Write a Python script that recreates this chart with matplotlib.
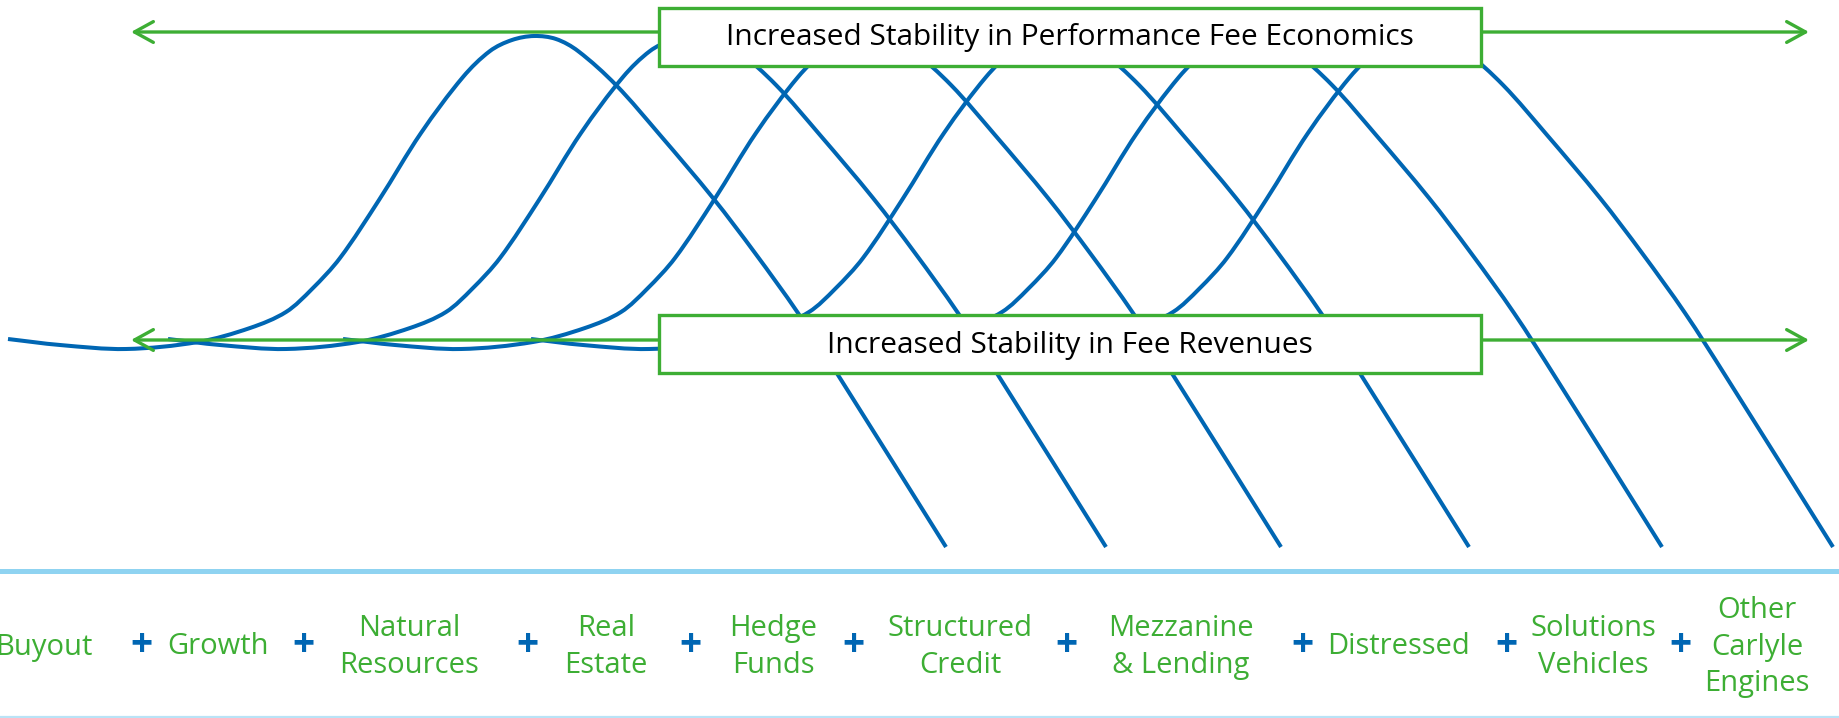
import matplotlib
matplotlib.use('Agg')
import matplotlib.pyplot as plt
from matplotlib.patches import Rectangle, PathPatch
from matplotlib.path import Path

# shape of one fund-life curve (pixel units, y down)
curve_x = [8, 60, 126, 198, 250, 286, 312, 340, 379, 421, 463, 490, 512,
           534, 556, 578, 616, 660, 713, 755, 798, 838, 946]
curve_y = [339, 345, 349, 342, 328, 312, 289, 258, 200, 133, 77, 51, 40,
           36, 39, 51, 85, 135, 198, 253, 313, 375, 547]
# horizontal shift of each of the six curves
curve_shift = [0, 160, 335, 523, 716, 887]

top_label = 'Increased Stability in Performance Fee Economics'
mid_label = 'Increased Stability in Fee Revenues'

engines = ['Buyout', 'Growth', 'Natural\nResources', 'Real\nEstate', 'Hedge\nFunds',
           'Structured\nCredit', 'Mezzanine\n& Lending', 'Distressed',
           'Solutions\nVehicles', 'Other\nCarlyle\nEngines']
engine_x = [44, 218, 409, 606, 773, 960, 1181, 1399, 1593, 1757]
plus_x = [141, 303, 527, 690, 853, 1066, 1302, 1506, 1680]

blue = '#0066B3'
green = '#3DAE34'
font = ['Open Sans', 'DejaVu Sans']


def smooth_path(xs, ys):
    # smooth bezier through the read points (chord-length scaled tangents)
    pts = list(zip(xs, ys))
    n = len(pts)
    d = [((pts[i + 1][0] - pts[i][0]) ** 2 + (pts[i + 1][1] - pts[i][1]) ** 2) ** 0.5
         for i in range(n - 1)]
    tan = []
    for i in range(n):
        a = pts[max(i - 1, 0)]
        b = pts[min(i + 1, n - 1)]
        span = (d[i - 1] if i > 0 else 0) + (d[i] if i < n - 1 else 0)
        tan.append(((b[0] - a[0]) / span, (b[1] - a[1]) / span))
    verts = [pts[0]]
    codes = [Path.MOVETO]
    for i in range(n - 1):
        k = d[i] / 3
        c1 = (pts[i][0] + tan[i][0] * k, pts[i][1] + tan[i][1] * k)
        c2 = (pts[i + 1][0] - tan[i + 1][0] * k, pts[i + 1][1] - tan[i + 1][1] * k)
        verts += [c1, c2, pts[i + 1]]
        codes += [Path.CURVE4] * 3
    return Path(verts, codes)


fig = plt.figure(figsize=(18.39, 7.18), dpi=100)
ax = fig.add_axes([0, 0, 1, 1])
ax.set_xlim(0, 1839)
ax.set_ylim(718, 0)
ax.axis('off')

for s in curve_shift:
    ax.add_patch(PathPatch(smooth_path([x + s for x in curve_x], curve_y),
                           facecolor='none', edgecolor=blue, lw=2.9,
                           joinstyle='round', capstyle='butt', zorder=1))

# the two arrows with their boxes
for y, y0, y1, txt in [(32, 8, 66, top_label), (340, 315, 373, mid_label)]:
    arrow = dict(arrowstyle='->,head_length=0.4,head_width=0.22', mutation_scale=34,
                 color=green, lw=2.4, shrinkA=0, shrinkB=0)
    ax.annotate('', xy=(131, y), xytext=(660, y), arrowprops=arrow, zorder=3)
    ax.annotate('', xy=(1809, y), xytext=(1480, y), arrowprops=arrow, zorder=3)
    ax.add_patch(Rectangle((659, y0), 822, y1 - y0, facecolor='white',
                           edgecolor=green, lw=2.4, zorder=4))
    ax.text(1070, (y0 + y1) / 2 + 1, txt, ha='center', va='center', fontsize=21.5,
            family=font, color='black', zorder=5)

# separator lines
ax.axhline(571, color='#8FD3F1', lw=3.6, zorder=2)
ax.axhline(717, color='#B9E3F6', lw=1.6, zorder=2)

for x, name in zip(engine_x, engines):
    ax.text(x, 647, name, ha='center', va='center', fontsize=21, family=font,
            color=green, linespacing=1.33)
for x in plus_x:
    ax.text(x, 645, '+', ha='center', va='center', fontsize=28, family=font,
            color=blue, fontweight='bold')

fig.savefig('out.png', dpi=100)
